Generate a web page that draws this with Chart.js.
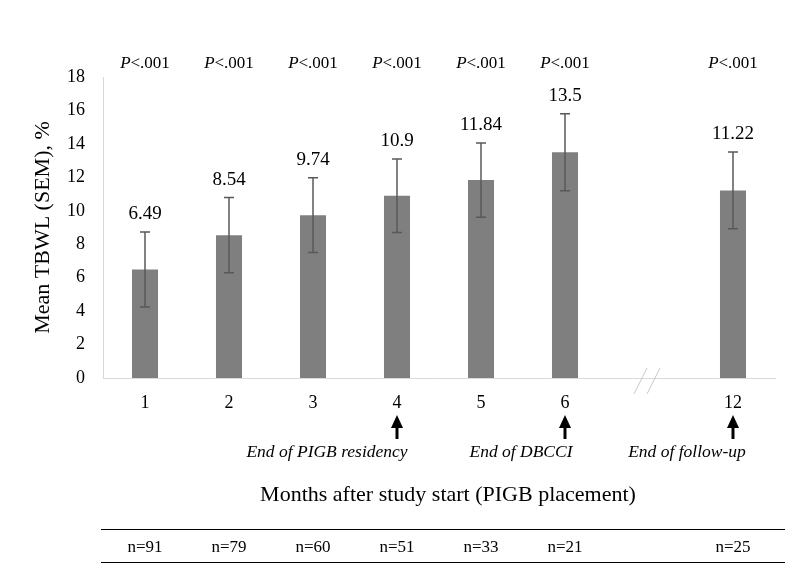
<!DOCTYPE html>
<html>
<head>
<meta charset="utf-8">
<script src="https://cdn.jsdelivr.net/npm/chart.js@4"></script>
<style>
  html, body { margin: 0; padding: 0; background: #fff; }
  #wrap { width: 800px; height: 573px; }
</style>
</head>
<body>
<div id="wrap"><canvas id="c" width="800" height="573"></canvas></div>
<script>
const months = ['1', '2', '3', '4', '5', '6', '', '12']
const tbwl = [6.49, 8.54, 9.74, 10.9, 11.84, 13.5, null, 11.22]
const sem = [2.24, 2.25, 2.24, 2.2, 2.22, 2.3, null, 2.3]
const pLabels = ['<.001', '<.001', '<.001', '<.001', '<.001', '<.001', null, '<.001']
const nCounts = ['n=91', 'n=79', 'n=60', 'n=51', 'n=33', 'n=21', '', 'n=25']
const milestones = [
  { idx: 3, text: 'End of PIGB residency', dx: -70 },
  { idx: 5, text: 'End of DBCCI', dx: -44 },
  { idx: 7, text: 'End of follow-up', dx: -46 }
]

const serif = '"Liberation Serif", "DejaVu Serif", serif'

// draws error bars, labels, arrows and the n= table
const extras = {
  id: 'extras',
  afterDatasetsDraw(chart) {
    const ctx = chart.ctx
    const x = chart.scales.x
    const y = chart.scales.y
    ctx.save()

    // error bars
    ctx.strokeStyle = '#595959'
    ctx.lineWidth = 1.5
    tbwl.forEach((v, i) => {
      if (v == null) return
      const cx = x.getPixelForValue(i)
      const top = y.getPixelForValue(v + sem[i])
      const bot = y.getPixelForValue(v - sem[i])
      ctx.beginPath()
      ctx.moveTo(cx, top); ctx.lineTo(cx, bot)
      ctx.moveTo(cx - 5, top); ctx.lineTo(cx + 5, top)
      ctx.moveTo(cx - 5, bot); ctx.lineTo(cx + 5, bot)
      ctx.stroke()
    })

    // value labels
    ctx.fillStyle = '#000'
    ctx.font = '19px ' + serif
    ctx.textAlign = 'center'
    ctx.textBaseline = 'alphabetic'
    tbwl.forEach((v, i) => {
      if (v == null) return
      const cx = x.getPixelForValue(i)
      const top = y.getPixelForValue(v + sem[i])
      ctx.fillText(String(v), cx, top - 13)
    })

    // P values
    pLabels.forEach((p, i) => {
      if (p == null) return
      const cx = x.getPixelForValue(i)
      ctx.font = 'italic 17px ' + serif
      const w1 = ctx.measureText('P').width
      ctx.font = '17px ' + serif
      const w2 = ctx.measureText(p).width
      const sx = cx - (w1 + w2) / 2
      ctx.textAlign = 'left'
      ctx.font = 'italic 17px ' + serif
      ctx.fillText('P', sx, 68)
      ctx.font = '17px ' + serif
      ctx.fillText(p, sx + w1, 68)
    })

    // axis break
    const bx = x.getPixelForValue(6)
    const by = y.bottom
    ctx.strokeStyle = '#c8c8c8'
    ctx.lineWidth = 1
    ctx.beginPath()
    ctx.moveTo(bx - 15, by + 16); ctx.lineTo(bx - 2, by - 10)
    ctx.moveTo(bx - 2, by + 16); ctx.lineTo(bx + 11, by - 10)
    ctx.stroke()

    // arrows and milestone text
    ctx.fillStyle = '#000'
    ctx.strokeStyle = '#000'
    milestones.forEach(m => {
      const cx = x.getPixelForValue(m.idx)
      ctx.lineWidth = 3
      ctx.beginPath()
      ctx.moveTo(cx, 426); ctx.lineTo(cx, 439)
      ctx.stroke()
      ctx.beginPath()
      ctx.moveTo(cx, 415); ctx.lineTo(cx - 6, 428); ctx.lineTo(cx + 6, 428)
      ctx.closePath()
      ctx.fill()
      ctx.font = 'italic 17.5px ' + serif
      ctx.textAlign = 'center'
      ctx.fillText(m.text, cx + m.dx, 457)
    })

    // x axis title
    ctx.font = '22px ' + serif
    ctx.textAlign = 'center'
    ctx.fillText('Months after study start (PIGB placement)', 448, 501)

    // table
    ctx.strokeStyle = '#000'
    ctx.lineWidth = 1
    ctx.beginPath()
    ctx.moveTo(101, 529.5); ctx.lineTo(785, 529.5)
    ctx.moveTo(101, 562.5); ctx.lineTo(785, 562.5)
    ctx.stroke()
    ctx.font = '17px ' + serif
    nCounts.forEach((n, i) => {
      if (!n) return
      ctx.fillText(n, x.getPixelForValue(i), 552)
    })

    ctx.restore()
  }
}

new Chart(document.getElementById('c'), {
  type: 'bar',
  data: {
    labels: months,
    datasets: [{
      data: tbwl,
      backgroundColor: '#7f7f7f',
      categoryPercentage: 1,
      barPercentage: 0.31
    }]
  },
  options: {
    responsive: false,
    animation: false,
    layout: { padding: { top: 77, right: 25, left: 30, bottom: 0 } },
    plugins: { legend: { display: false }, tooltip: { enabled: false } },
    scales: {
      x: {
        grid: { display: false },
        border: { color: '#d9d9d9', width: 1 },
        ticks: { color: '#000', font: { family: serif, size: 18 }, padding: 6, maxRotation: 0 },
        afterFit: (s) => { s.height = 195 }
      },
      y: {
        min: 0,
        max: 18,
        grid: { display: false },
        border: { color: '#d9d9d9', width: 1 },
        ticks: { stepSize: 2, color: '#000', font: { family: serif, size: 18 }, padding: 10 },
        title: { display: true, text: 'Mean TBWL (SEM), %', color: '#000', font: { family: serif, size: 22 }, padding: { top: 0, bottom: 0 } },
        afterFit: (s) => { s.width = 73 }
      }
    }
  },
  plugins: [extras]
})
</script>
</body>
</html>
